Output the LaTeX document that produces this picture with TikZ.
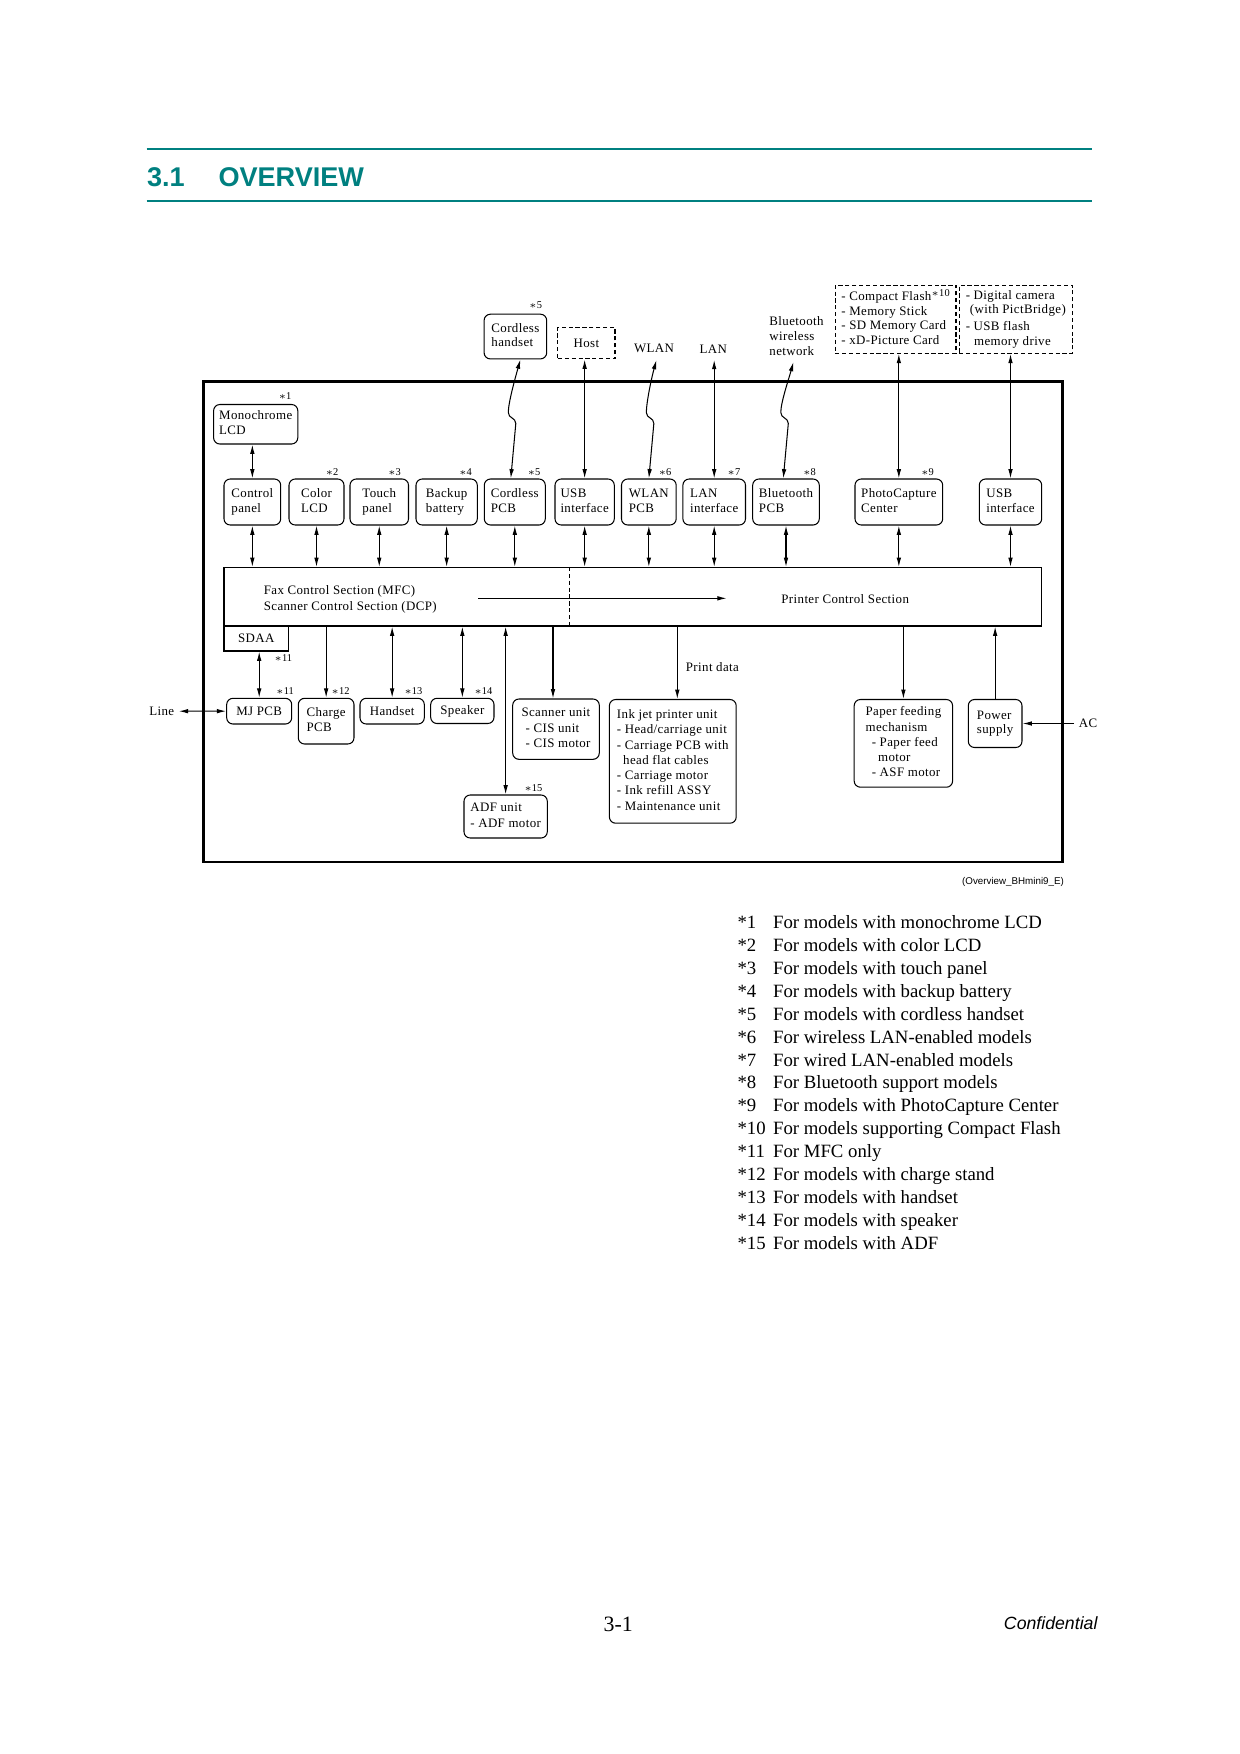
\documentclass[tikz,border=0pt]{standalone}
\usepackage{fontspec}
\setmainfont{Liberation Serif}
\newfontfamily\dgfont[LetterSpace=3]{Liberation Serif}
\newfontfamily\sansfam{Liberation Sans}
\usetikzlibrary{arrows.meta,calc}
\definecolor{hdteal}{RGB}{0,128,128}
\newcommand\dg{\dgfont\fontsize{6.2}{7}\selectfont}
\newcommand\dgl{\dgfont\fontsize{6.2}{7.3}\selectfont}
\newcommand\stf{\fontsize{5}{6}\selectfont}
\newcommand\lftx[1]{\begin{tabular}{@{}l@{}}#1\end{tabular}}
% \bx[extra]{style}{name}{x1}{y1}{x2}{y2}{text}
\newcommand\bx[8][]{\node[#2,#1,minimum width={(#6-#4)*0.48pt},minimum height={(#7-#5)*0.48pt}] (#3) at ({(#4+#6)/2},{(#5+#7)/2}) {#8};}
\newcommand\wavearrow[2]{\draw[<->] (#1) -- ++(5,-55) .. controls +(0,-6) and +(0,6) .. ++(-7.5,-11) .. controls +(0,-10) and +(-5,18) .. (#2);}
\begin{document}
\begin{tikzpicture}[x=0.48pt,y=-0.48pt,
  >={Latex[length=4.5pt,width=2.2pt]},
  every path/.style={line width=0.5pt},
  box/.style={draw, rounded corners=3pt, inner sep=0pt, line width=0.5pt, font=\dg},
  sqbox/.style={draw, inner sep=0pt, line width=0.5pt, font=\dg},
  dbox/.style={draw, dash pattern=on 2pt off 1.3pt, inner sep=0pt, line width=0.5pt, font=\dg},
  txt/.style={inner sep=1pt, align=left, font=\dg},
  star/.style={inner sep=0pt, font=\stf},
  legf/.style={anchor=base west, inner sep=0pt, font=\fontsize{9}{11}\selectfont},
]
\fill[white] (0,0) rectangle (1240,1754);
\useasboundingbox (0,0) rectangle (1240,1754);

% header
\draw[hdteal, line width=1.1pt] (146.5,148.7) -- (1092.4,148.7);
\draw[hdteal, line width=1.1pt] (146.5,201.3) -- (1092.4,201.3);
\node[anchor=base west, inner sep=0pt, text=hdteal, font=\sansfam\bfseries\fontsize{13}{16}\selectfont] (tnum) at (146.5,186.7) {3.1};
\node[anchor=base west, inner sep=0pt, text=hdteal, font=\sansfam\bfseries\fontsize{13}{16}\selectfont] (ttl) at (218,186.7) {OVERVIEW};

% outer frame
\bx[line width=1.3pt]{sqbox}{frame}{203.5}{381.3}{1062.2}{862.1}{}

% top external items
\bx{box}{hs}{484.1}{314.2}{546.7}{358.9}{\lftx{Cordless\\handset}}
\node[star] at (535.6,305.2) {$\ast$5};
\bx{dbox}{host}{557.9}{327.6}{615}{358.9}{Host}
\node[txt, inner sep=3pt] (wlan) at (654,348.8) {WLAN};
\node[txt, inner sep=3pt] (lant) at (713.3,348.8) {LAN};
\node[txt, inner sep=3pt, anchor=west] (btn) at (762.7,336) {Bluetooth\\wireless\\network};
\bx{dbox}{cf}{835.2}{285.1}{956}{353.3}{\lftx{- Compact Flash\raisebox{2pt}{\stf$\ast$10}\\- Memory Stick\\- SD Memory Card\\- xD-Picture Card}}
\bx{dbox}{dc}{959.3}{285.1}{1072.3}{353.3}{\lftx{- Digital camera\\\hspace*{2pt}(with PictBridge)\\[1pt]- USB flash\\\hspace*{4pt}memory drive}}

% row 1
\bx{box}{mono}{213.6}{404.5}{297.8}{444}{\lftx{Monochrome\\LCD}}
\node[star] at (285,396) {$\ast$1};
\bx{box}{cp}{224}{479}{280.7}{525}{\lftx{Control\\panel}}
\bx{box}{clcd}{289}{479}{344}{525}{\lftx{Color\\LCD}}
\bx{box}{tp}{350}{479}{408.5}{525}{\lftx{Touch\\panel}}
\bx{box}{bb}{416}{479}{477.3}{525}{\lftx{Backup\\battery}}
\bx{box}{cpcb}{484.3}{479}{545.3}{525}{\lftx{Cordless\\PCB}}
\bx{box}{usb}{555}{479}{614.3}{525}{\lftx{USB\\interface}}
\bx{box}{wpcb}{621.5}{479}{676.2}{525}{\lftx{WLAN\\PCB}}
\bx{box}{lani}{682.9}{479}{745.5}{525}{\lftx{LAN\\interface}}
\bx{box}{bpcb}{752.7}{479}{819.3}{525}{\lftx{Bluetooth\\PCB}}
\bx{box}{pcc}{855}{479}{942.7}{525}{\lftx{PhotoCapture\\Center}}
\bx{box}{usbr}{979.3}{479}{1041.7}{525}{\lftx{USB\\interface}}
\node[star] at (332,471.7) {$\ast$2};
\node[star] at (394.5,471.7) {$\ast$3};
\node[star] at (465.5,471.7) {$\ast$4};
\node[star] at (534,471.7) {$\ast$5};
\node[star] at (665,471.7) {$\ast$6};
\node[star] at (733.8,471.7) {$\ast$7};
\node[star] at (809.5,471.7) {$\ast$8};
\node[star] at (927.5,471.7) {$\ast$9};

% control section
\bx{sqbox}{ctrl}{224}{567.5}{1041.5}{626}{}
\bx{sqbox}{sdaa}{224}{626}{288.5}{651}{SDAA}
\node[star] at (283.3,658.3) {$\ast$11};
\node[txt, anchor=west, inner sep=0pt] (fax) at (263.3,599.3) {Fax Control Section (MFC)\\[0.5pt]Scanner Control Section (DCP)};
\node[txt, inner sep=0pt] (prn) at (845.2,599) {Printer Control Section};
\coordinate (div) at (569.3,600);
\draw[dash pattern=on 2pt off 1.3pt] (div |- ctrl.north) -- (div |- ctrl.south);
\coordinate (ha1) at (478.3,598.3);
\coordinate (ha2) at (726.7,598.3);
\draw[->] (ha1) -- (ha2);

% bottom row
\bx{box}{mj}{226.7}{698.3}{291.7}{724}{MJ PCB}
\bx{box}{chg}{298.3}{698.3}{354}{744}{\lftx{Charge\\PCB}}
\bx{box}{hset}{360}{698.3}{424.3}{724}{Handset}
\bx{box}{spk}{430.7}{698.3}{494}{723.5}{Speaker}
\bx[font=\dgl]{box}{scn}{512.7}{699}{599.3}{759.3}{\lftx{Scanner unit\\\hspace*{2pt}- CIS unit\\\hspace*{2pt}- CIS motor}}
\bx[font=\dgl]{box}{ink}{609.4}{699.5}{736.2}{823.2}{\lftx{Ink jet printer unit\\- Head/carriage unit\\- Carriage PCB with\\\hspace*{3pt}head flat cables\\- Carriage motor\\- Ink refill ASSY\\- Maintenance unit}}
\bx[font=\dgl]{box}{adf}{464}{795}{547.3}{838}{\lftx{ADF unit\\- ADF motor}}
\bx[font=\dgl]{box}{pfm}{854.2}{699.5}{952.6}{787.2}{\lftx{Paper feeding\\mechanism\\\hspace*{3pt}- Paper feed\\\hspace*{6pt}motor\\\hspace*{3pt}- ASF motor}}
\bx{box}{pws}{968.3}{699.5}{1022}{747.5}{\lftx{Power\\supply}}
\node[star] at (285,691) {$\ast$11};
\node[star] at (340.5,691) {$\ast$12};
\node[star] at (413.3,691) {$\ast$13};
\node[star] at (483.3,691) {$\ast$14};
\node[star] at (533.3,788.3) {$\ast$15};

\node[txt, inner sep=2pt] (line) at (161.7,711.2) {Line};
\node[txt, inner sep=2pt] (ac) at (1088,723.5) {AC};
\node[txt, anchor=west, inner sep=0pt] (pd) at (685.4,667.5) {Print data};

% connectors: top external
\wavearrow{$(cpcb.north)+(-4,0)$}{$(hs.south)+(5,0)$}
\draw[<->] (usb.north) -- (usb.north |- host.south);
\wavearrow{wpcb.north}{$(wlan.south)+(2.5,0)$}
\draw[<->] (lani.north) -- (lani.north |- lant.south);
\wavearrow{$(bpcb.north)+(-2.7,0)$}{$(btn.south)+(-3,0)$}
\draw[<->] (pcc.north) -- (pcc.north |- cf.south);
\draw[<->] (usbr.north) -- (usbr.north |- dc.south);

% connectors: row 1
\draw[<->] (cp.north |- mono.south) -- (cp.north);
\foreach \n in {cp,clcd,tp,bb,cpcb,usb,wpcb,lani,bpcb,pcc,usbr}
  \draw[<->] (\n.south) -- (\n.south |- ctrl.north);

% connectors: bottom
\draw[<->] (mj.north |- sdaa.south) -- (mj.north);
\draw[->] (chg.north |- ctrl.south) -- (chg.north);
\draw[<->] (hset.north |- ctrl.south) -- (hset.north);
\draw[<->] (spk.north |- ctrl.south) -- (spk.north);
\draw[<->] (adf.north |- ctrl.south) -- (adf.north);
\coordinate (scx) at ($(scn.north)+(-3,0)$);
\draw[->] (scx |- ctrl.south) -- (scx);
\coordinate (inx) at ($(ink.north)+(4.5,0)$);
\draw[->] (inx |- ctrl.south) -- (inx);
\draw[->] (pfm.north |- ctrl.south) -- (pfm.north);
\draw[->] (pws.north) -- (pws.north |- ctrl.south);
\draw[<->] (line.east) -- (mj.west);
\draw[->] (ac.west) -- (pws.east);

% caption
\node[anchor=base east, inner sep=0pt, font=\sansfam\fontsize{4.7}{5}\selectfont] (cap) at (1064.4,884.5) {(Overview\_BHmini9\_E)};

% legend
\foreach \i/\t [count=\k from 0] in {1/For models with monochrome LCD,2/For models with color LCD,3/For models with touch panel,4/For models with backup battery,5/For models with cordless handset,6/For wireless LAN-enabled models,7/For wired LAN-enabled models,8/For Bluetooth support models,9/For models with PhotoCapture Center,10/For models supporting Compact Flash,11/For MFC only,12/For models with charge stand,13/For models with handset,14/For models with speaker,15/For models with ADF}{
  \node[legf] (ls\i) at (737,928.5+22.92*\k) {*\i};
  \node[legf] (lt\i) at (772.6,928.5+22.92*\k) {\t};
}

% footer
\node[anchor=base, inner sep=0pt, font=\fontsize{10.5}{12}\selectfont] (pg) at (618.3,1631) {3-1};
\node[anchor=base east, inner sep=0pt, font=\sansfam\itshape\fontsize{8.5}{10}\selectfont] (conf) at (1098,1629) {Confidential};
\end{tikzpicture}
\end{document}
